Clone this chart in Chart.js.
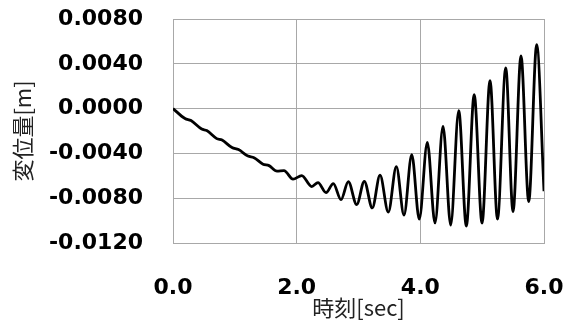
<!DOCTYPE html>
<html>
<head>
<meta charset="utf-8">
<script src="https://cdn.jsdelivr.net/npm/chart.js@4/dist/chart.umd.min.js"></script>
<style>
  html, body { margin: 0; padding: 0; background: #fff; }
  canvas { display: block; }
</style>
</head>
<body>
<canvas id="dispChart" width="576" height="323"></canvas>
<script>
// --------------------
// Data
// --------------------
const timeSec = [
  0.000, 0.194, 0.291, 0.464, 0.545, 0.707, 0.793, 0.954, 1.059, 1.213,
  1.310, 1.456, 1.553, 1.682, 1.795, 1.941, 2.082, 2.243, 2.345, 2.475,
  2.593, 2.717, 2.835, 2.971, 3.094, 3.223, 3.348, 3.482, 3.612, 3.736,
  3.861, 3.983, 4.113, 4.237, 4.367, 4.491, 4.621, 4.744, 4.871, 4.998,
  5.127, 5.248, 5.381, 5.499, 5.628, 5.753, 5.882, 6.000
];
const displacement = [
  0.00000, -0.00089, -0.00107, -0.00183, -0.00196, -0.00268, -0.00281, -0.00348, -0.00366, -0.00424,
  -0.00438, -0.00496, -0.00509, -0.00558, -0.00554, -0.00630, -0.00598, -0.00696, -0.00661, -0.00750,
  -0.00670, -0.00813, -0.00652, -0.00857, -0.00649, -0.00887, -0.00594, -0.00924, -0.00518, -0.00951,
  -0.00411, -0.00987, -0.00301, -0.01021, -0.00158, -0.01040, -0.00018, -0.01049, 0.00125, -0.01022,
  0.00250, -0.00987, 0.00363, -0.00920, 0.00471, -0.00830, 0.00571, -0.00738
];
const xTicks = [0, 2, 4, 6];
const yTicks = [-0.012, -0.008, -0.004, 0.000, 0.004, 0.008];

const xTitle = '時刻[sec]';
const yTitle = '変位量[m]';

// --------------------
// Styles
// --------------------
const gridColor = '#a8a8a8';
const tickFont = { family: '"DejaVu Sans", sans-serif', size: 22, weight: 'bold' };
const titleFont = { family: '"Noto Sans CJK JP", sans-serif', size: 22, weight: 'normal' };

const points = timeSec.map((t, i) => ({ x: t, y: displacement[i] }));

new Chart(document.getElementById('dispChart').getContext('2d'), {
  type: 'line',
  data: {
    datasets: [{
      data: points,
      borderColor: '#000',
      borderWidth: 2.8,
      pointRadius: 0,
      fill: false,
      cubicInterpolationMode: 'monotone'
    }]
  },
  options: {
    responsive: false,
    animation: false,
    devicePixelRatio: 1,
    layout: { padding: { left: 0, right: 32, top: 19, bottom: 0 } },
    plugins: {
      legend: { display: false },
      tooltip: { enabled: false }
    },
    scales: {
      x: {
        type: 'linear',
        min: xTicks[0],
        max: xTicks[xTicks.length - 1],
        afterBuildTicks: (scale) => { scale.ticks = xTicks.map(v => ({ value: v })); },
        afterFit: (scale) => { scale.height = 80; },
        // invisible tick marks push the labels down without adding edge padding
        grid: { color: gridColor, lineWidth: 1, drawTicks: true, tickLength: 28, tickColor: 'rgba(0,0,0,0)' },
        border: { color: gridColor, width: 1 },
        ticks: {
          padding: 4,
          color: '#000',
          font: tickFont,
          maxRotation: 0,
          callback: (v) => Number(v).toFixed(1)
        },
        title: {
          display: true,
          text: xTitle,
          color: '#222',
          font: titleFont,
          padding: { top: 0, bottom: 2 }
        }
      },
      y: {
        min: yTicks[0],
        max: yTicks[yTicks.length - 1],
        afterBuildTicks: (scale) => { scale.ticks = yTicks.map(v => ({ value: v })); },
        afterFit: (scale) => { scale.width = 173; },
        grid: { color: gridColor, lineWidth: 1, drawTicks: true, tickLength: 26, tickColor: 'rgba(0,0,0,0)' },
        border: { color: gridColor, width: 1 },
        ticks: {
          padding: 4,
          color: '#000',
          font: tickFont,
          callback: (v) => Number(v).toFixed(4)
        },
        title: {
          display: true,
          text: yTitle,
          color: '#222',
          font: titleFont,
          padding: { top: 9, bottom: 0 }
        }
      }
    }
  }
});
</script>
</body>
</html>
